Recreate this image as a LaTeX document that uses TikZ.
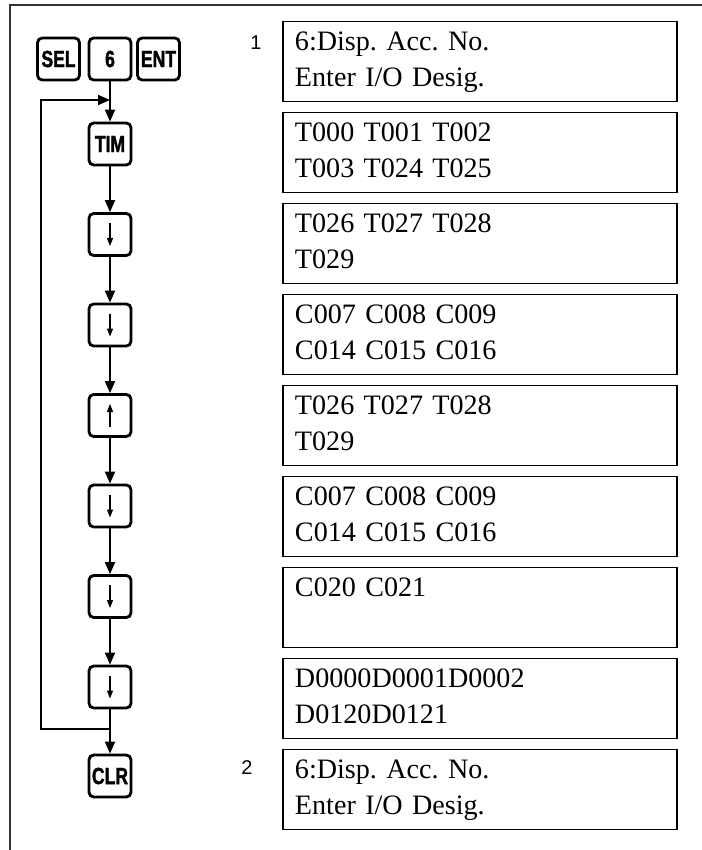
\documentclass[tikz,border=0pt]{standalone}
\usepackage{fontspec}
\setmainfont{Liberation Serif}
\newfontfamily\keyfont[FakeStretch=0.75,FakeBold=1.5]{Liberation Sans}
\newfontfamily\numfont{Liberation Sans}
\usetikzlibrary{arrows.meta}
\newcommand{\disptext}[2]{\strut #1\\\strut #2}
\frenchspacing
\begin{document}
\begin{tikzpicture}[x=0.03cm,y=-0.03cm,
  key/.style={draw, line width=2.4pt, rounded corners=4pt, minimum size=1.26cm, inner sep=0pt, font=\keyfont\bfseries\fontsize{20}{20}\selectfont},
  arrowkey/.style={key, path picture={\draw[line width=0.9pt,-{Triangle[width=0.18cm,length=0.24cm]}] ([yshift=#1]path picture bounding box.center) -- ([yshift=-#1]path picture bounding box.center);}},
  disp/.style={draw, line width=1.2pt, minimum width=11.82cm, minimum height=2.25cm, inner xsep=0.36cm, text width=11.1cm, align=left, font=\fontsize{24}{30.7}\selectfont},
  num/.style={font=\numfont\fontsize{17}{17}\selectfont},
  flow/.style={line width=1.6pt, -{Triangle[width=0.3cm,length=0.36cm]}}]
  \useasboundingbox (0,0) rectangle (701,850);
  \draw[line width=1.3pt, black!80] (10,860) -- (10,5) -- (720,5);

  \node[key] (sel) at (58.5,59) {SEL};
  \node[key] (six) at (110,59) {6};
  \node[key] (ent) at (158.5,59) {ENT};
  \node[key] (k0) at (110,144) {TIM};
  \node[arrowkey=0.345cm] (k1) at (110,234.5) {};
  \node[arrowkey=0.345cm] (k2) at (110,325) {};
  \node[arrowkey=-0.345cm] (k3) at (110,415.5) {};
  \node[arrowkey=0.345cm] (k4) at (110,506) {};
  \node[arrowkey=0.345cm] (k5) at (110,596.5) {};
  \node[arrowkey=0.345cm] (k6) at (110,687) {};
  \node[key] (clr) at (110,776) {CLR};

  \draw[flow] (six) -- (k0);
  \foreach \a/\b in {k0/k1,k1/k2,k2/k3,k3/k4,k4/k5,k5/k6,k6/clr}
    \draw[flow] (\a) -- (\b);
  \coordinate (jn) at (110,729);
  \coordinate (back) at (110,100);
  \draw[flow] (jn) -- (41,729) |- (back);

  \node[num] (n1) at (256,43) {1};
  \node[num] (n2) at (247,768) {2};

  \node[disp] (d1) at (480,61.5) {\disptext{6:Disp. Acc. No.}{Enter I/O Desig.}};
  \node[disp] (d2) at (480,152.5) {\disptext{T000 T001 T002}{T003 T024 T025}};
  \node[disp] (d3) at (480,243.5) {\disptext{T026 T027 T028}{T029}};
  \node[disp] (d4) at (480,334.5) {\disptext{C007 C008 C009}{C014 C015 C016}};
  \node[disp] (d5) at (480,425.5) {\disptext{T026 T027 T028}{T029}};
  \node[disp] (d6) at (480,516.5) {\disptext{C007 C008 C009}{C014 C015 C016}};
  \node[disp] (d7) at (480,607.5) {\disptext{C020 C021}{}};
  \node[disp] (d8) at (480,698.5) {\disptext{D0000D0001D0002}{D0120D0121}};
  \node[disp] (d9) at (480,789.5) {\disptext{6:Disp. Acc. No.}{Enter I/O Desig.}};
\end{tikzpicture}
\end{document}
